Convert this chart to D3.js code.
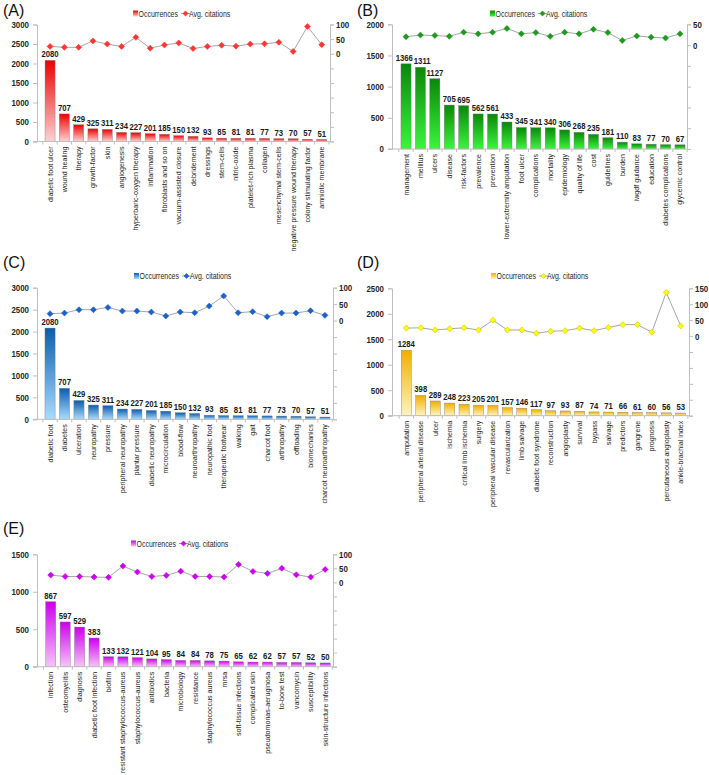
<!DOCTYPE html>
<html><head><meta charset="utf-8">
<script src="https://cdn.jsdelivr.net/npm/d3@7"></script>
<style>body{margin:0;background:#fff}svg{display:block}text{font-family:"Liberation Sans",Arial,sans-serif}</style>
</head><body>
<svg id="c" width="709" height="775"></svg>
<script>
// ---------- DATA ----------
const catsA = ["diabetic foot ulcer","wound healing","therapy","growth-factor","skin","angiogenesis","hyperbaric-oxygen therapy","inflammation","fibroblasts and so on","vacuum-assisted closure","debridement","dressings","stem-cells","nitric-oxide","platelet-rich plasma","collagen","mesenchymal stem-cells","negative pressure wound therapy","colony stimulating factor","amniotic membrane"];
const occA = [2080,707,429,325,311,234,227,201,185,150,132,93,85,81,81,77,73,70,57,51];
const citA = [25,22,22,44,33,25,56,19,30,37,18,25,29,26,33,34,39,8,93,31];

const catsB = ["management","mellitus","ulcers","disease","risk-factors","prevalence","prevention","lower-extremity amputation","foot ulcer","complications","mortality","epidemiology","quality of life","cost","guidelines","burden","iwgdf guidance","education","diabetes complications","glycemic control"];
const occB = [1366,1311,1127,705,695,562,561,433,345,341,340,306,268,235,181,110,83,77,70,67];
const citB = [20,24,23,21,31,27,31,40,27,30,21,31,27,38,30,11,22,19,17,27];

const catsC = ["diabetic foot","diabetes","ulceration","neuropathy","pressure","peripheral neuropathy","plantar pressure","diabetic neuropathy","microcirculation","blood-flow","neuroarthropathy","neuropathic foot","therapeutic footwear","walking","gait","charcot foot","arthropathy","offloading","biomechanics","charcot neuroarthropathy"];
const occC = [2080,707,429,325,311,234,227,201,185,150,132,93,85,81,81,77,73,70,57,51];
const citC = [21,23,33,33,40,29,29,26,14,26,24,44,75,24,27,12,23,23,30,16];

const catsD = ["amputation","peripheral arterial disease","ulcer","ischemia","critical limb ischemia","surgery","peripheral vascular disease","revascularization","limb salvage","diabetic foot syndrome","reconstruction","angioplasty","survival","bypass","salvage","predictors","gangrene","prognosis","percutaneous angioplasty","ankle-brachial index"];
const occD = [1284,398,289,248,223,205,201,157,146,117,97,93,87,74,71,66,61,60,56,53];
const citD = [25,26,19,23,26,19,50,19,19,9,15,17,25,17,27,36,36,12,137,32];

const catsE = ["infection","osteomyelitis","diagnosis","diabetic foot infection","biofilm","resistant staphylococcus-aureus","staphylococcus-aureus","antibiotics","bacteria","microbiology","resistance","staphylococcus aureus","mrsa","soft-tissue infections","complicated skin","pseudomonas-aeruginosa","to-bone test","vancomycin","susceptibility","skin-structure infections"];
const occE = [867,597,529,383,133,132,121,104,95,84,84,78,75,65,62,62,57,57,52,50];
const citE = [26,21,21,19,18,58,37,21,25,40,21,21,19,64,39,32,50,27,19,46];

const seriesNames = ["Occurrences","Avg. citations"];
const panelLabels = ["(A)","(B)","(C)","(D)","(E)"];

// ---------- LAYOUT ----------
const panels = [
 {id:"A",cats:catsA,occ:occA,cit:citA,x0:37,x1:330,bx0:42.9,bx1:328.9,yTop:24.5,yBot:141.5,lmax:3000,rmin:-300,rmax:100,lgX:133,lgY:13.5,lbX:3,lbY:16,
  top:"#ee0000",bot:"#ffd2d2",mk:"#ff3535",mkS:"#ff3535"},
 {id:"B",cats:catsB,occ:occB,cit:citB,x0:392,x1:687,bx0:398.8,bx1:687.2,yTop:24.3,yBot:149,lmax:2000,rmin:-250,rmax:50,lgX:490,lgY:13.5,lbX:357,lbY:16,
  top:"#0a870a",bot:"#3cf53c",mk:"#1c9a1c",mkS:"#1c9a1c"},
 {id:"C",cats:catsC,occ:occC,cit:citC,x0:37,x1:333,bx0:42.8,bx1:332.2,yTop:287.7,yBot:419.3,lmax:3000,rmin:-300,rmax:100,lgX:134,lgY:276,lbX:3,lbY:268,
  top:"#0b5cae",bot:"#a9dcff",mk:"#1b62c8",mkS:"#1b62c8"},
 {id:"D",cats:catsD,occ:occD,cit:citD,x0:392,x1:689,bx0:399.1,bx1:687.9,yTop:288.3,yBot:415.7,lmax:2500,rmin:-250,rmax:150,lgX:491,lgY:276,lbX:357,lbY:268,
  top:"#f2ae00",bot:"#fff4bf",mk:"#ffff00",mkS:"#c9c400"},
 {id:"E",cats:catsE,occ:occE,cit:citE,x0:37,x1:333,bx0:43.5,bx1:332.4,yTop:554.3,yBot:666.7,lmax:1500,rmin:-300,rmax:100,lgX:131,lgY:543.5,lbX:3,lbY:534,
  top:"#cc00ee",bot:"#f6c4f9",mk:"#cc00ee",mkS:"#cc00ee"}
];

const svg = d3.select("#c");
const defs = svg.append("defs");
const axisCol = "#bfbfbf", txtCol = "#262626";
const diamond = r => `M0,${-r}L${r},0L0,${r}L${-r},0Z`;
function cond(sel, fx, fy, sx){
  sel.attr("x",null).attr("y",null)
     .attr("transform",(d,i)=>`translate(${fx(d,i)},${fy(d,i)}) scale(${sx},1)`);
}

panels.forEach((p,pi)=>{
  const g = svg.append("g");
  const grad = defs.append("linearGradient").attr("id","gr"+p.id).attr("x1",0).attr("y1",0).attr("x2",0).attr("y2",1);
  grad.append("stop").attr("offset","0%").attr("stop-color",p.top);
  grad.append("stop").attr("offset","100%").attr("stop-color",p.bot);

  const x = d3.scaleBand().domain(p.cats).range([p.bx0,p.bx1]).paddingInner(0.3).paddingOuter(0.15);
  const yL = d3.scaleLinear().domain([0,p.lmax]).range([p.yBot,p.yTop]);
  const yR = d3.scaleLinear().domain([p.rmin,p.rmax]).range([p.yBot,p.yTop]);

  g.append("text").attr("x",p.lbX).attr("y",p.lbY).attr("font-size",16).attr("fill","#111").text(panelLabels[pi]);

  const la = g.append("g").attr("transform",`translate(${p.x0},0)`)
    .call(d3.axisLeft(yL).tickValues(d3.range(0,p.lmax+1,500)).tickSize(4).tickPadding(4).tickFormat(d3.format("d")));
  la.select(".domain").attr("stroke",axisCol);
  la.selectAll(".tick line").attr("stroke",axisCol);
  la.selectAll("text").attr("font-size",9).attr("font-weight","bold").attr("fill",txtCol).attr("font-family",null).attr("dy","0.33em")
    .call(cond,()=>-8,()=>0,0.88);

  const ra = g.append("g").attr("transform",`translate(${p.x1},0)`)
    .call(d3.axisRight(yR).tickValues(d3.range(p.rmin,p.rmax+1,50)).tickSize(4).tickPadding(4).tickFormat(d=> d>=0? d3.format("d")(d):""));
  ra.select(".domain").attr("stroke",axisCol);
  ra.selectAll(".tick line").attr("stroke",axisCol);
  ra.selectAll("text").attr("font-size",9).attr("font-weight","bold").attr("fill",txtCol).attr("font-family",null).attr("dy","0.33em")
    .call(cond,()=>6,()=>0,0.88);

  g.selectAll("rect.bar").data(p.occ).join("rect").attr("class","bar")
    .attr("x",(d,i)=>x(p.cats[i])).attr("width",x.bandwidth())
    .attr("y",d=>yL(d)).attr("height",d=>p.yBot-yL(d))
    .attr("fill",`url(#gr${p.id})`).attr("stroke","#7a7a7a").attr("stroke-width",0.4);

  g.append("line").attr("x1",p.x0-4).attr("x2",p.x1).attr("y1",p.yBot).attr("y2",p.yBot).attr("stroke",axisCol);
  const step = x.step();
  const first = x(p.cats[0]) - x.paddingInner()*step/2;
  g.selectAll("line.xt").data(d3.range(p.cats.length+1)).join("line").attr("class","xt")
    .attr("x1",i=>first+i*step).attr("x2",i=>first+i*step)
    .attr("y1",p.yBot).attr("y2",p.yBot+3).attr("stroke",axisCol);

  g.selectAll("text.cat").data(p.cats).join("text").attr("class","cat")
    .attr("transform",d=>`translate(${x(d)+x.bandwidth()/2+2.5},${p.yBot+5}) rotate(-90)`)
    .attr("text-anchor","end").attr("font-size",7.1).attr("fill",txtCol).text(d=>d);

  // value labels with simple collision nudge between neighbours at similar height
  const sx = 0.84;
  const vals = g.selectAll("text.val").data(p.occ).join("text").attr("class","val")
    .attr("text-anchor","middle").attr("font-size",9.2).attr("font-weight","bold").attr("fill","#1a1a1a").text(d=>d);
  const cx = p.occ.map((d,i)=>x(p.cats[i])+x.bandwidth()/2);
  const w = vals.nodes().map(n=>n.getComputedTextLength()*sx);
  for(let k=0;k<3;k++){
    for(let i=1;i<cx.length;i++){
      if(Math.abs(yL(p.occ[i])-yL(p.occ[i-1]))<9){
        const ov = (cx[i-1]+w[i-1]/2+1) - (cx[i]-w[i]/2);
        if(ov>0){ cx[i-1]-=ov/2; cx[i]+=ov/2; }
      }
    }
  }
  vals.call(cond,(d,i)=>cx[i],d=>yL(d)-3,sx);

  const line = d3.line().x((d,i)=>x(p.cats[i])+x.bandwidth()/2).y(d=>yR(d));
  g.append("path").datum(p.cit).attr("d",line).attr("fill","none").attr("stroke","#a6a6a6").attr("stroke-width",1);
  g.selectAll("path.mk").data(p.cit).join("path").attr("class","mk").attr("d",diamond(3))
    .attr("transform",(d,i)=>`translate(${x(p.cats[i])+x.bandwidth()/2},${yR(d)})`)
    .attr("fill",p.mk).attr("stroke",p.mkS).attr("stroke-width",0.6);

  const lg = g.append("g").attr("transform",`translate(${p.lgX},${p.lgY})`);
  lg.append("rect").attr("x",0).attr("y",-3).attr("width",5).attr("height",6).attr("fill",`url(#gr${p.id})`);
  lg.append("text").attr("font-size",8.5).attr("fill",txtCol).text(seriesNames[0]).call(cond,()=>5.5,()=>3,0.82);
  lg.append("line").attr("x1",48).attr("x2",57).attr("y1",0).attr("y2",0).attr("stroke","#a6a6a6");
  lg.append("path").attr("d",diamond(2.6)).attr("transform","translate(52.5,0)").attr("fill",p.mk).attr("stroke",p.mkS).attr("stroke-width",0.6);
  lg.append("text").attr("font-size",8.5).attr("fill",txtCol).text(seriesNames[1]).call(cond,()=>56,()=>3,0.82);
});
</script>
</body></html>
